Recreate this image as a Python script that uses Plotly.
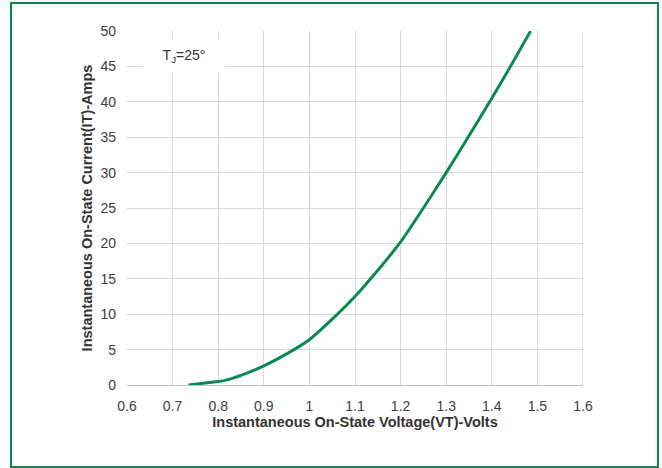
import plotly.graph_objects as go

voltage = [0.735, 0.80, 0.815, 0.85, 0.90, 0.95, 1.00, 1.05, 1.10, 1.15, 1.20, 1.25, 1.30, 1.35, 1.40, 1.45, 1.485]
current = [0.0, 0.5, 0.65, 1.35, 2.7, 4.4, 6.4, 9.3, 12.5, 16.2, 20.2, 25.0, 30.0, 35.2, 40.5, 46.0, 50.0]

x_ticks = [0.6, 0.7, 0.8, 0.9, 1.0, 1.1, 1.2, 1.3, 1.4, 1.5, 1.6]
x_tick_text = ["0.6", "0.7", "0.8", "0.9", "1", "1.1", "1.2", "1.3", "1.4", "1.5", "1.6"]
y_ticks = [0, 5, 10, 15, 20, 25, 30, 35, 40, 45, 50]

green = "#0a8a50"
font = "Liberation Sans, Arial, sans-serif"

fig = go.Figure()
fig.add_trace(go.Scatter(x=voltage, y=current, mode="lines",
                         line=dict(color=green, width=3, shape="spline", smoothing=0.5),
                         showlegend=False, hoverinfo="skip"))

fig.update_layout(
    width=662, height=468,
    margin=dict(l=127, r=79, t=31, b=83),
    paper_bgcolor="white", plot_bgcolor="white",
    font=dict(family=font, size=14, color="#404040"),
    xaxis=dict(range=[0.6, 1.6], tickvals=x_ticks, ticktext=x_tick_text,
               showgrid=True, gridcolor="#d9d9d9", gridwidth=1,
               showline=True, linecolor="#bfbfbf", linewidth=1, mirror=False,
               zeroline=False, ticks="", ticklabelstandoff=8,
               tickfont=dict(size=14, color="#404040"),
               title=dict(text="<b>Instantaneous On-State Voltage(VT)-Volts</b>",
                          font=dict(size=14.5, color="#333333"), standoff=3)),
    yaxis=dict(range=[0, 50], tickvals=y_ticks,
               showgrid=True, gridcolor="#d9d9d9", gridwidth=1,
               showline=False, zeroline=False, ticks="", ticklabelstandoff=10,
               tickfont=dict(size=14, color="#404040"),
               title=dict(text="<b>Instantaneous On-State Current(IT)-Amps</b>",
                          font=dict(size=14.5, color="#333333"), standoff=4)),
)

# right plot edge (grey)
fig.add_shape(type="line", xref="x", yref="paper", x0=1.6, x1=1.6, y0=0, y1=1,
              line=dict(color="#d9d9d9", width=1))

# outer green frame
fig.add_shape(type="rect", xref="paper", yref="paper",
              x0=(11 - 127) / 456, x1=(658 - 127) / 456,
              y0=(385 - 467) / 354, y1=(385 - 3) / 354,
              line=dict(color=green, width=2), fillcolor="rgba(0,0,0,0)")

fig.add_annotation(x=0.725, y=46.4, xref="x", yref="y",
                   text="T<sub>J</sub>=25°", showarrow=False,
                   width=80, height=30, bgcolor="white", align="center",
                   xanchor="center", yanchor="middle",
                   font=dict(size=14, color="#333333"))

fig.write_html("out.html", config={"displayModeBar": False},
               post_script="document.body.style.margin='0px';")
